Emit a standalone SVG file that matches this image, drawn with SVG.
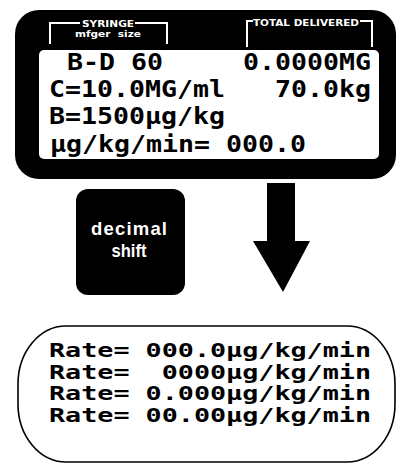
<svg xmlns="http://www.w3.org/2000/svg" width="397" height="466" viewBox="0 0 397 466">
<style>
.lcd{font-family:"DejaVu Sans Mono","Liberation Mono",monospace;font-weight:bold;fill:#000}
.big{font-size:23px}
.rate{font-size:19px}
.lbl{font-family:"DejaVu Sans","Liberation Sans",sans-serif;font-weight:bold;fill:#fff}
.key{font-family:"Liberation Sans","DejaVu Sans",sans-serif;font-weight:bold;fill:#fff;font-size:18.5px}
.brk{fill:none;stroke:#fff;stroke-width:2}
</style>
<rect width="397" height="466" fill="#fff"/>
<g id="display">
<rect x="15" y="10" width="381" height="169" rx="24" fill="#000"/>
<rect x="39" y="50" width="340" height="109" rx="5" fill="#fff"/>
<path class="brk" d="M50,44 V23 H80 M135,23 H167 V44"/>
<text class="lbl" x="108" y="27" font-size="9.5" text-anchor="middle" textLength="52" lengthAdjust="spacingAndGlyphs">SYRINGE</text>
<text class="lbl" x="108" y="37" font-size="8.5" text-anchor="middle" textLength="66" lengthAdjust="spacingAndGlyphs" xml:space="preserve">mfger  size</text>
<path class="brk" d="M247,47 V21 H253 M360,21 H372 V47"/>
<text class="lbl" x="306" y="25.5" font-size="9.5" text-anchor="middle" textLength="106" lengthAdjust="spacingAndGlyphs">TOTAL DELIVERED</text>
<text class="lcd big" x="67" y="70" textLength="96" lengthAdjust="spacingAndGlyphs">B-D 60</text>
<text class="lcd big" x="243" y="70" textLength="128" lengthAdjust="spacingAndGlyphs">0.0000MG</text>
<text class="lcd big" x="49" y="97" textLength="176" lengthAdjust="spacingAndGlyphs">C=10.0MG/ml</text>
<text class="lcd big" x="275" y="97" textLength="96" lengthAdjust="spacingAndGlyphs">70.0kg</text>
<text class="lcd big" x="49" y="124" textLength="176" lengthAdjust="spacingAndGlyphs">B=1500μg/kg</text>
<text class="lcd big" x="50" y="152" textLength="256" lengthAdjust="spacingAndGlyphs" xml:space="preserve">μg/kg/min= 000.0</text>
</g>
<g id="decimal-shift">
<rect x="76" y="189" width="109" height="106" rx="12" fill="#000"/>
<text class="key" x="129" y="235" text-anchor="middle" textLength="76" lengthAdjust="spacing">decimal</text>
<text class="key" x="129" y="257" text-anchor="middle" textLength="35" lengthAdjust="spacingAndGlyphs">shift</text>
</g>
<g id="connectors">
<path d="M267,183 H295 V241 H310 L283,292 L253,241 H267 Z" fill="#000"/>
</g>
<g id="rates">
<rect x="18" y="326" width="377" height="136" rx="48" ry="58" fill="none" stroke="#000" stroke-width="1.6"/>
<text class="lcd rate" x="49" y="357" textLength="322" lengthAdjust="spacingAndGlyphs" xml:space="preserve">Rate= 000.0μg/kg/min</text>
<text class="lcd rate" x="49" y="379" textLength="322" lengthAdjust="spacingAndGlyphs" xml:space="preserve">Rate=  0000μg/kg/min</text>
<text class="lcd rate" x="49" y="400" textLength="322" lengthAdjust="spacingAndGlyphs" xml:space="preserve">Rate= 0.000μg/kg/min</text>
<text class="lcd rate" x="49" y="422" textLength="322" lengthAdjust="spacingAndGlyphs" xml:space="preserve">Rate= 00.00μg/kg/min</text>
</g>
</svg>
